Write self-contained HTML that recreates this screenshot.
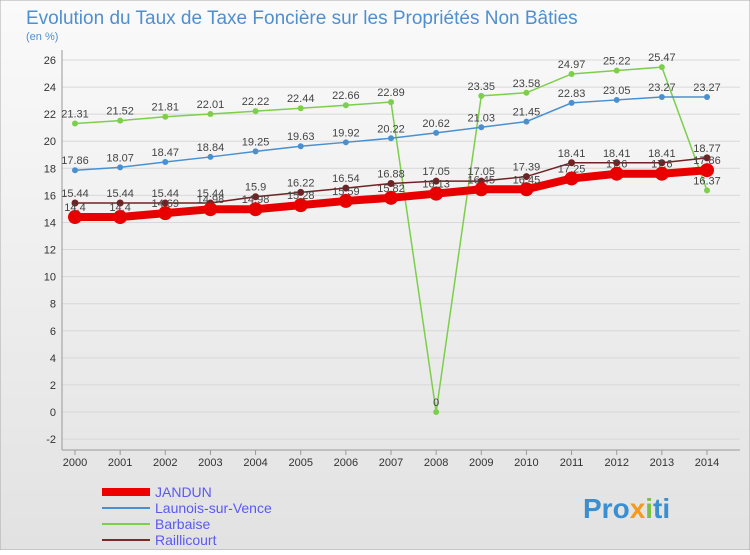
<!DOCTYPE html>
<html><head><meta charset="utf-8"><style>
body{margin:0;width:750px;height:550px;overflow:hidden;font-family:"Liberation Sans",sans-serif}
</style></head><body>
<svg width="750" height="550" xmlns="http://www.w3.org/2000/svg">
<defs><linearGradient id="bg" x1="0" y1="0" x2="0" y2="1"><stop offset="0" stop-color="#fafafa"/><stop offset="1" stop-color="#e2e2e2"/></linearGradient></defs>
<rect x="0" y="0" width="750" height="550" fill="url(#bg)" stroke="#aaa"/>
<text x="26" y="24" font-size="19" fill="#4f8fd0">Evolution du Taux de Taxe Foncière sur les Propriétés Non Bâties</text>
<text x="26" y="40" font-size="11" fill="#4f8fd0">(en %)</text>
<g id="grid"></g><g id="series"></g><g id="labels"></g>
<g font-size="14">
<line x1="102" y1="492" x2="150" y2="492" stroke="#e00" stroke-width="8"/>
<text x="155" y="497" fill="#5a5af0">JANDUN</text>
<line x1="102" y1="508" x2="150" y2="508" stroke="#4a90d0" stroke-width="2"/>
<text x="155" y="513" fill="#5a5af0">Launois-sur-Vence</text>
<line x1="102" y1="524" x2="150" y2="524" stroke="#7ccf4a" stroke-width="2"/>
<text x="155" y="529" fill="#5a5af0">Barbaise</text>
<line x1="102" y1="540" x2="150" y2="540" stroke="#7a2a2a" stroke-width="2"/>
<text x="155" y="545" fill="#5a5af0">Raillicourt</text>
</g>
<text x="583" y="518" font-size="28" font-weight="bold" fill="#3a8fd0">Pro<tspan fill="#f39a1f">x</tspan><tspan fill="#7cc242">i</tspan>ti</text>
</svg>
<script>
const years=[2000,2001,2002,2003,2004,2005,2006,2007,2008,2009,2010,2011,2012,2013,2014];
const yTicks=[-2,0,2,4,6,8,10,12,14,16,18,20,22,24,26];
const jandun=[14.4,14.4,14.69,14.98,14.98,15.28,15.59,15.82,16.13,16.45,16.45,17.25,17.6,17.6,17.86];
const launois=[17.86,18.07,18.47,18.84,19.25,19.63,19.92,20.22,20.62,21.03,21.45,22.83,23.05,23.27,23.27];
const barbaise=[21.31,21.52,21.81,22.01,22.22,22.44,22.66,22.89,0,23.35,23.58,24.97,25.22,25.47,16.37];
const raillicourt=[15.44,15.44,15.44,15.44,15.9,16.22,16.54,16.88,17.05,17.05,17.39,18.41,18.41,18.41,18.77];
const NS="http://www.w3.org/2000/svg";
const xs=i=>75+i*(707-75)/(years.length-1);
const ys=v=>412-v*(352/26);
function mk(t,a,p){const e=document.createElementNS(NS,t);for(const k in a)e.setAttribute(k,a[k]);p.appendChild(e);return e;}
const grid=document.getElementById('grid'),ser=document.getElementById('series'),lab=document.getElementById('labels');
yTicks.forEach(v=>{
 const l=mk('line',{x1:62,x2:740,y1:ys(v),y2:ys(v),stroke:'#d8d8d8','stroke-width':1},grid);
 
 
 const t=mk('text',{x:56,y:ys(v)+4,'font-size':11,'text-anchor':'end',fill:'#333'},grid);t.textContent=v;
 
 
});
mk('line',{x1:62,x2:62,y1:50,y2:450,stroke:'#999'},grid);
mk('line',{x1:62,x2:740,y1:450,y2:450,stroke:'#999'},grid);
years.forEach((y,i)=>{
 mk('line',{x1:xs(i),x2:xs(i),y1:450,y2:455,stroke:'#999'},grid);
 const t=mk('text',{x:xs(i),y:466,'font-size':11,'text-anchor':'middle',fill:'#333'},grid);t.textContent=y;
 
 
});
function draw(name,data,color,w,r){
 const pts=data.map((v,i)=>xs(i)+','+ys(v)).join(' ');
 const pl=mk('polyline',{points:pts,fill:'none',stroke:color,'stroke-width':w},ser);
 
 
 data.forEach((v,i)=>{
  const c=mk('circle',{cx:xs(i),cy:ys(v),r:r,fill:color},ser);
  
  
  const t=mk('text',{x:xs(i),y:ys(v)-6,'font-size':11,'text-anchor':'middle',fill:'#444'},lab);t.textContent=String(v);
  
  
 });
}
draw('barbaise',barbaise,'#7ccf4a',1.5,3);
draw('launois',launois,'#4a90d0',1.5,3);
draw('raillicourt',raillicourt,'#6e2424',1.5,3.5);
draw('jandun',jandun,'#e80000',8,7);
</script>
</body></html>
